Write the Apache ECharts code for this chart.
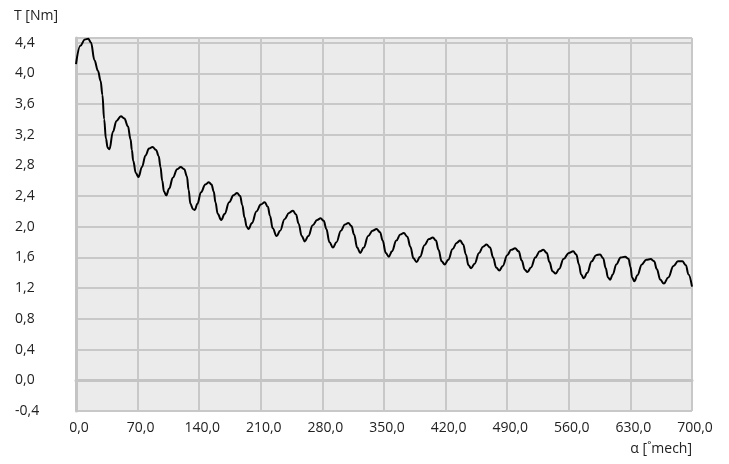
<!DOCTYPE html>
<html>
<head>
<meta charset="utf-8">
<script src="https://cdn.jsdelivr.net/npm/echarts@6/dist/echarts.min.js"></script>
<style>html,body{margin:0;padding:0;background:#fff;}#c{width:729px;height:464px;}</style>
</head>
<body>
<div id="c"></div>
<script>
// angle [deg mech]
var angles = [
 0,5,10,14,17,21,25,28,30,32,34,36,38,
 42,46,51,55,59,62,63.5,65,68,71,
 75,79,83,87,91,94,96,98,100,102.5,
 106,110,115,119,123,126,128,130,133,135,
 138,142,147,151,154,156.5,158.5,161,165,
 169,174,179,183,186.5,189,191.5,194,196,
 200,205,210,214.5,218,220.5,223.5,228,
 232,237,242,246.5,250,253,256.5,260,
 264,269,274,278,281.5,284.5,288,292,
 296,301,305.5,309.5,313,316,319.5,323,
 327,332,337,341.5,345.5,348.5,352,355.5,
 359,364,368.5,372.5,376.5,380,383.5,387,
 391,396,401,405.5,409,412,415.5,419,
 423,428,432.5,436.5,440,443,446,449,
 453,458,462.5,466.5,470.5,474,477.5,481,
 485,490,494.5,499,503,506.5,510,513,
 517,522,527,531,535,538,541.5,545,
 549,554,560,565,568.5,571.5,574,577,
 581,586,591,595.5,599,602,604.5,607,
 610,614,619,624,628,630,632,634.5,
 638,643,648,653,657,660,664,668,
 673,679,684,689,693,696,700
];
// torque [Nm]
var torque = [
 4.12,4.36,4.44,4.45,4.40,4.17,4.03,3.90,3.72,3.40,3.15,3.03,3.01,
 3.24,3.38,3.44,3.41,3.31,3.14,3.00,2.86,2.70,2.65,
 2.78,2.93,3.02,3.04,3.00,2.92,2.78,2.60,2.46,2.41,
 2.50,2.64,2.75,2.78,2.75,2.66,2.48,2.30,2.23,2.22,
 2.30,2.45,2.55,2.58,2.55,2.46,2.32,2.17,2.09,
 2.17,2.32,2.41,2.44,2.40,2.28,2.12,2.00,1.97,
 2.05,2.20,2.29,2.32,2.26,2.14,1.98,1.88,
 1.95,2.10,2.18,2.21,2.16,2.04,1.88,1.81,
 1.88,2.02,2.09,2.11,2.08,1.97,1.80,1.73,
 1.80,1.95,2.03,2.05,2.01,1.90,1.73,1.66,
 1.73,1.88,1.95,1.97,1.93,1.82,1.66,1.61,
 1.68,1.82,1.90,1.92,1.87,1.74,1.59,1.54,
 1.61,1.76,1.84,1.86,1.82,1.70,1.55,1.51,
 1.57,1.71,1.79,1.82,1.77,1.64,1.50,1.46,
 1.52,1.66,1.74,1.77,1.73,1.60,1.47,1.43,
 1.49,1.63,1.70,1.72,1.68,1.56,1.44,1.41,
 1.47,1.60,1.68,1.70,1.66,1.54,1.42,1.39,
 1.45,1.58,1.66,1.68,1.64,1.51,1.38,1.33,
 1.40,1.55,1.63,1.64,1.59,1.46,1.34,1.31,
 1.38,1.51,1.60,1.61,1.58,1.48,1.34,1.29,
 1.37,1.51,1.57,1.58,1.55,1.45,1.31,1.26,
 1.34,1.49,1.55,1.55,1.50,1.38,1.22
];
var xName = 'α [˚mech]';
var yName = 'T [Nm]';

var data = angles.map(function (a, i) { return [a, torque[i]]; });
function fmt(v) { return (Math.round(v * 10) / 10).toFixed(1).replace('.', ','); }

var chart = echarts.init(document.getElementById('c'), null, { renderer: 'canvas' });
var font = '"Open Sans", "Noto Sans", sans-serif';
chart.setOption({
  animation: false,
  backgroundColor: '#ffffff',
  grid: { left: 76, right: 37, top: 38, bottom: 53, show: true, backgroundColor: '#ebebeb', borderWidth: 0, outerBoundsMode: 'none', containLabel: false },
  graphic: [{
    type: 'text', right: 37, top: 442,
    style: { text: xName, font: '14px ' + font, fill: '#222', textAlign: 'right' }
  }],
  xAxis: {
    type: 'value', min: 0, max: 700, interval: 70,
    axisLine: { show: true, lineStyle: { color: '#c4c4c4', width: 3 } },
    axisTick: { show: false },
    axisLabel: { fontFamily: font, fontSize: 14, color: '#222', margin: 10, padding: [0, 0, 0, 6], formatter: fmt },
    splitLine: { show: true, lineStyle: { color: '#c8c8c8', width: 2 } }
  },
  yAxis: {
    type: 'value', min: -0.4, max: 4.46, interval: 0.4,
    name: yName, nameLocation: 'end', nameGap: 15,
    nameTextStyle: { fontFamily: font, fontSize: 14, color: '#222', align: 'right', padding: [0, 18, 0, 0] },
    axisLine: { show: true, lineStyle: { color: '#c4c4c4', width: 3 } },
    axisTick: { show: false },
    axisLabel: { fontFamily: font, fontSize: 14, color: '#222', margin: 61, align: 'left', showMaxLabel: false, padding: [0, 0, 8, 0], formatter: fmt },
    splitLine: { show: true, lineStyle: { color: '#c8c8c8', width: 2 } }
  },
  series: [{
    type: 'line', data: data, showSymbol: false, smooth: 0.4, smoothMonotone: 'x',
    lineStyle: { color: '#000', width: 2 }, clip: true
  }]
});
</script>
</body>
</html>
